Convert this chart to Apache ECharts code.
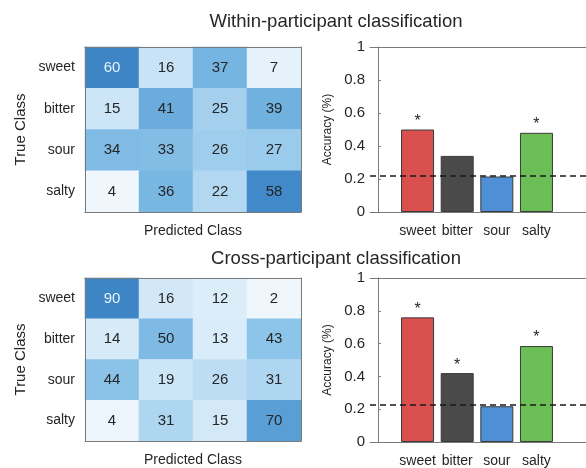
<!DOCTYPE html>
<html>
<head>
<meta charset="utf-8">
<script src="https://cdn.jsdelivr.net/npm/echarts@6/dist/echarts.min.js"></script>
<style>
  html, body { margin: 0; padding: 0; background: #fff; }
  #chart { width: 586px; height: 468px; }
</style>
</head>
<body>
<div id="chart"></div>
<script>
  // classes, shared by both rows
  var tastes = ["sweet", "bitter", "sour", "salty"];

  // confusion matrices, rows = true class, cols = predicted class
  var withinMatrix = [
    [60, 16, 37, 7],
    [15, 41, 25, 39],
    [34, 33, 26, 27],
    [4, 36, 22, 58]
  ];
  var crossMatrix = [
    [90, 16, 12, 2],
    [14, 50, 13, 43],
    [44, 19, 26, 31],
    [4, 31, 15, 70]
  ];

  // per-class accuracy + significance stars
  var withinAcc = [0.50, 0.34, 0.215, 0.48];
  var withinSig = [true, false, false, true];
  var withinChance = 0.22;
  var crossAcc = [0.76, 0.42, 0.218, 0.585];
  var crossSig = [true, true, false, true];
  var crossChance = 0.235;

  var barColors = ["#d9504f", "#4a4a4a", "#4f8fd5", "#6cbf56"];
  var heatColors = ["#eff7fc", "#c2e0f5", "#85bfe7", "#5ca2d8", "#3d85c5"];
  var TXT = "#262626", FRAME = "#7a7a7a";
  var FONT = "'Liberation Sans', Arial, sans-serif";

  function heatData(m) {
    var lo = Infinity, hi = -Infinity, out = [];
    m.forEach(function (r) { r.forEach(function (v) { lo = Math.min(lo, v); hi = Math.max(hi, v); }); });
    m.forEach(function (row, i) {
      row.forEach(function (v, j) {
        var dark = (v - lo) / (hi - lo) > 0.98;
        out.push({ value: [j, i, v], label: { color: dark ? "#e8f2fa" : TXT } });
      });
    });
    return { data: out, min: lo, max: hi };
  }

  function barData(acc, sig) {
    return acc.map(function (v, i) {
      return {
        value: [i + 1, v],
        itemStyle: { color: barColors[i] },
        label: { show: sig[i] }
      };
    });
  }

  var el = document.getElementById("chart");
  var chart = echarts.init(el, null, { renderer: "canvas" });

  var hmTop = [47, 278], hmH = [165, 164];
  var grids = [], xAxes = [], yAxes = [], series = [], visualMaps = [];
  var rows = [
    { m: withinMatrix, acc: withinAcc, sig: withinSig, chance: withinChance },
    { m: crossMatrix, acc: crossAcc, sig: crossSig, chance: crossChance }
  ];

  rows.forEach(function (r, k) {
    var hm = heatData(r.m);
    var gHeat = grids.length;
    grids.push({ left: 85, top: hmTop[k], width: 216, height: hmH[k] });
    var gBar = grids.length;
    grids.push({ left: 370, top: hmTop[k], width: 218, height: hmH[k] });

    // heatmap axes (bottom/left with labels, top/right only as frame); z above cells
    var xh = xAxes.length;
    xAxes.push({
      gridIndex: gHeat, type: "category", data: tastes, position: "bottom", z: 5,
      axisLabel: { show: false }, axisTick: { show: false },
      axisLine: { lineStyle: { color: FRAME } },
      name: "Predicted Class", nameLocation: "middle", nameGap: 12,
      nameTextStyle: { color: TXT, fontSize: 14, fontFamily: FONT }
    });
    xAxes.push({
      gridIndex: gHeat, type: "category", data: tastes, position: "top", z: 5,
      axisLabel: { show: false }, axisTick: { show: false },
      axisLine: { lineStyle: { color: FRAME } }
    });
    var yh = yAxes.length;
    yAxes.push({
      gridIndex: gHeat, type: "category", data: tastes, inverse: true, position: "left", z: 5,
      axisLabel: { color: TXT, fontSize: 14, fontFamily: FONT, margin: 10 },
      axisTick: { show: false }, axisLine: { lineStyle: { color: FRAME } },
      name: "True Class", nameLocation: "middle", nameGap: 57, nameRotate: 90,
      nameTextStyle: { color: TXT, fontSize: 15, fontFamily: FONT }
    });
    yAxes.push({
      gridIndex: gHeat, type: "category", data: tastes, inverse: true, position: "right", z: 5,
      axisLabel: { show: false }, axisTick: { show: false },
      axisLine: { lineStyle: { color: FRAME } }
    });

    visualMaps.push({
      show: false, type: "continuous", seriesIndex: series.length,
      min: hm.min, max: hm.max, dimension: 2,
      inRange: { color: heatColors }
    });
    series.push({
      type: "heatmap", xAxisIndex: xh, yAxisIndex: yh, data: hm.data,
      label: { show: true, fontSize: 15, fontFamily: FONT,
        formatter: function (p) { return p.value[2]; } },
      itemStyle: { borderWidth: 0 },
      emphasis: { disabled: true }
    });

    // bar chart axes
    var xb = xAxes.length;
    xAxes.push({
      gridIndex: gBar, type: "value", min: -0.2, max: 5.25, position: "bottom",
      splitLine: { show: false }, axisTick: { show: false },
      axisLine: { lineStyle: { color: FRAME } },
      axisLabel: {
        customValues: [1, 2, 3, 4], color: TXT, fontSize: 14, fontFamily: FONT, margin: 12,
        formatter: function (v) { return tastes[Math.round(v) - 1] || ""; }
      }
    });
    xAxes.push({
      gridIndex: gBar, type: "value", min: -0.2, max: 5.25, position: "top",
      splitLine: { show: false }, axisTick: { show: false }, axisLabel: { show: false },
      axisLine: { lineStyle: { color: FRAME } }
    });
    var yb = yAxes.length;
    yAxes.push({
      gridIndex: gBar, type: "value", min: 0, max: 1, interval: 0.2, position: "left",
      splitLine: { show: false },
      axisLine: { show: true, lineStyle: { color: FRAME } },
      axisTick: { show: true, inside: true, length: 3, lineStyle: { color: FRAME } },
      axisLabel: { color: TXT, fontSize: 15, fontFamily: FONT, margin: 5 },
      name: "Accuracy (%)", nameLocation: "middle", nameGap: 36, nameRotate: 90,
      nameTextStyle: { color: TXT, fontSize: 12, fontFamily: FONT }
    });

    series.push({
      type: "bar", xAxisIndex: xb, yAxisIndex: yb, barWidth: 33,
      data: barData(r.acc, r.sig),
      itemStyle: { borderColor: "#3a3a3a", borderWidth: 1 },
      label: { position: "top", distance: 0, formatter: "*", color: TXT, fontSize: 16, fontFamily: FONT },
      emphasis: { disabled: true },
      markLine: {
        silent: true, symbol: "none", animation: false,
        label: { show: false },
        lineStyle: { color: "#1a1a1a", type: [6, 4], width: 1.5 },
        data: [{ yAxis: r.chance }]
      }
    });
  });

  chart.setOption({
    animation: false,
    backgroundColor: "#fff",
    title: [
      { text: "Within-participant classification", left: 331, top: 7, textAlign: "center",
        textStyle: { color: TXT, fontSize: 18.5, fontWeight: "normal", fontFamily: FONT } },
      { text: "Cross-participant classification", left: 331, top: 244, textAlign: "center",
        textStyle: { color: TXT, fontSize: 18.5, fontWeight: "normal", fontFamily: FONT } }
    ],
    grid: grids,
    xAxis: xAxes,
    yAxis: yAxes,
    visualMap: visualMaps,
    series: series
  });
</script>
</body>
</html>
